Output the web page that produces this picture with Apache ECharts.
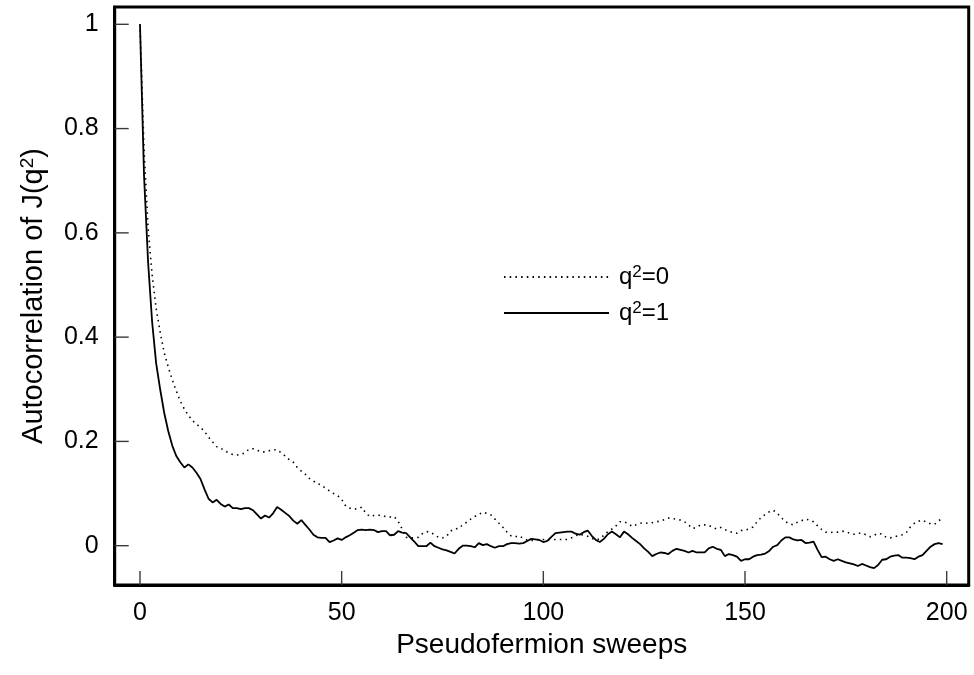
<!DOCTYPE html>
<html>
<head>
<meta charset="utf-8">
<title>Autocorrelation of J(q2)</title>
<script src="https://cdn.jsdelivr.net/npm/echarts@6/dist/echarts.min.js"></script>
<style>
  html, body { margin: 0; padding: 0; background: #fff; }
  #chart { width: 974px; height: 675px; }
</style>
</head>
<body>
<div id="chart"></div>
<script>
const FONT = '"Liberation Sans", Arial, sans-serif'

const xTicks = [0, 50, 100, 150, 200]
const yTicks = [0, 0.2, 0.4, 0.6, 0.8, 1]

// autocorrelation per pseudofermion sweep (index = sweep number)
const q2zero = [
  1.000, 0.760, 0.610, 0.520, 0.455, 0.410, 0.370, 0.343, 0.318, 0.297,
  0.277, 0.262, 0.250, 0.240, 0.233, 0.227, 0.219, 0.208, 0.199, 0.190,
  0.187, 0.182, 0.178, 0.175, 0.174, 0.175, 0.178, 0.185, 0.186, 0.183,
  0.180, 0.180, 0.182, 0.184, 0.184, 0.178, 0.172, 0.165, 0.160, 0.150,
  0.143, 0.137, 0.129, 0.124, 0.119, 0.116, 0.110, 0.105, 0.100, 0.096,
  0.089, 0.076, 0.072, 0.070, 0.071, 0.074, 0.062, 0.056, 0.058, 0.059,
  0.057, 0.056, 0.055, 0.056, 0.047, 0.032, 0.016, 0.015, 0.015, 0.016,
  0.023, 0.027, 0.026, 0.021, 0.016, 0.015, 0.018, 0.028, 0.032, 0.033,
  0.040, 0.045, 0.051, 0.056, 0.060, 0.064, 0.062, 0.059, 0.051, 0.043,
  0.035, 0.026, 0.019, 0.017, 0.019, 0.014, 0.011, 0.010, 0.010, 0.012,
  0.012, 0.012, 0.012, 0.012, 0.012, 0.012, 0.012, 0.015, 0.019, 0.022,
  0.020, 0.018, 0.014, 0.011, 0.013, 0.020, 0.027, 0.032, 0.038, 0.046,
  0.046, 0.043, 0.037, 0.040, 0.043, 0.044, 0.043, 0.044, 0.046, 0.047,
  0.050, 0.053, 0.052, 0.051, 0.049, 0.046, 0.040, 0.033, 0.035, 0.040,
  0.040, 0.039, 0.035, 0.032, 0.035, 0.031, 0.028, 0.025, 0.024, 0.029,
  0.030, 0.032, 0.036, 0.046, 0.054, 0.060, 0.065, 0.068, 0.062, 0.054,
  0.046, 0.042, 0.040, 0.045, 0.048, 0.051, 0.049, 0.046, 0.038, 0.031,
  0.026, 0.025, 0.026, 0.026, 0.028, 0.027, 0.024, 0.022, 0.024, 0.024,
  0.021, 0.017, 0.020, 0.024, 0.022, 0.016, 0.015, 0.017, 0.019, 0.021,
  0.025, 0.036, 0.043, 0.047, 0.049, 0.045, 0.042, 0.041, 0.048, 0.052
]

const q2one = [
  1.000, 0.710, 0.545, 0.430, 0.350, 0.300, 0.255, 0.220, 0.192, 0.172,
  0.160, 0.150, 0.156, 0.150, 0.140, 0.128, 0.108, 0.090, 0.083, 0.088,
  0.080, 0.075, 0.079, 0.072, 0.072, 0.070, 0.072, 0.072, 0.068, 0.060,
  0.052, 0.058, 0.054, 0.062, 0.074, 0.069, 0.063, 0.057, 0.048, 0.042,
  0.049, 0.040, 0.031, 0.021, 0.016, 0.015, 0.015, 0.007, 0.010, 0.014,
  0.011, 0.016, 0.020, 0.025, 0.030, 0.031, 0.030, 0.031, 0.030, 0.026,
  0.028, 0.028, 0.020, 0.021, 0.028, 0.025, 0.024, 0.016, 0.008, -0.001,
  -0.001, -0.001, 0.006, -0.001, -0.004, -0.007, -0.009, -0.012, -0.015, -0.006,
  0.000, 0.000, -0.001, -0.003, 0.005, 0.001, 0.003, -0.001, -0.004, -0.001,
  -0.001, 0.003, 0.005, 0.005, 0.004, 0.005, 0.009, 0.013, 0.012, 0.011,
  0.007, 0.009, 0.017, 0.024, 0.025, 0.026, 0.027, 0.027, 0.023, 0.021,
  0.026, 0.029, 0.019, 0.011, 0.007, 0.013, 0.022, 0.027, 0.022, 0.016,
  0.027, 0.022, 0.015, 0.009, 0.003, -0.005, -0.012, -0.020, -0.016, -0.013,
  -0.014, -0.016, -0.010, -0.006, -0.008, -0.010, -0.013, -0.010, -0.013, -0.013,
  -0.013, -0.005, -0.002, -0.006, -0.008, -0.020, -0.016, -0.018, -0.021, -0.029,
  -0.026, -0.026, -0.021, -0.018, -0.017, -0.015, -0.010, -0.002, 0.001, 0.010,
  0.016, 0.016, 0.012, 0.010, 0.011, 0.005, 0.006, 0.008, -0.008, -0.022,
  -0.021, -0.026, -0.029, -0.026, -0.029, -0.032, -0.034, -0.036, -0.039, -0.035,
  -0.038, -0.041, -0.043, -0.037, -0.027, -0.026, -0.021, -0.019, -0.018, -0.023,
  -0.023, -0.024, -0.026, -0.021, -0.018, -0.010, -0.002, 0.003, 0.005, 0.003
]

const seriesNames = ["q2=0", "q2=1"]

const X_MIN = -6.27
const X_MAX = 205.46
const Y_MIN = -0.0754
const Y_MAX = 1.0332
const TICK_PX = 14

const toPairs = values => values.map((v, i) => [i, v])

const chart = echarts.init(document.getElementById("chart"), null, { renderer: "canvas" })

const frameLine = { show: true, onZero: false, lineStyle: { color: "#000", width: 3 } }

// inward ticks drawn from the axis scale: dx/dy give the direction in pixels
function tickSeries(data, dx, dy) {
  return {
    type: "custom",
    silent: true,
    clip: false,
    z: 10,
    data: data,
    encode: { x: 0, y: 1 },
    renderItem: (params, api) => {
      const p = api.coord([api.value(0), api.value(1)])
      return {
        type: "line",
        shape: { x1: p[0], y1: p[1], x2: p[0] + dx, y2: p[1] + dy },
        style: { stroke: "#3a3a3a", lineWidth: 1.4 }
      }
    }
  }
}

const option = {
  animation: false,
  backgroundColor: "#fff",
  textStyle: { fontFamily: FONT, color: "#000" },
  grid: {
    left: 114.7,
    right: 5.3,
    top: 7,
    bottom: 90,
    show: true,
    borderColor: "#000",
    borderWidth: 3,
    backgroundColor: "transparent"
  },
  legend: {
    data: seriesNames,
    orient: "vertical",
    left: 503,
    top: 264,
    padding: 0,
    itemWidth: 105,
    itemHeight: 14,
    itemGap: 11,
    selectedMode: false,
    itemStyle: { color: "transparent", borderWidth: 0, opacity: 0 },
    formatter: name => `{n|q}{s|2}{n|=${name.split("=")[1]}}`,
    textStyle: {
      fontFamily: FONT,
      color: "#000",
      padding: [0, 0, 0, 5],
      rich: {
        n: { fontFamily: FONT, fontSize: 24, lineHeight: 26, color: "#000" },
        s: { fontFamily: FONT, fontSize: 17, lineHeight: 14, verticalAlign: "top", color: "#000" }
      }
    }
  },
  xAxis: {
    type: "value",
    min: X_MIN,
    max: X_MAX,
    name: "Pseudofermion sweeps",
    nameLocation: "middle",
    nameGap: 46,
    nameTextStyle: { fontFamily: FONT, fontSize: 28, color: "#000" },
    axisLine: frameLine,
    splitLine: { show: false },
    axisTick: { show: false },
    axisLabel: { customValues: xTicks, margin: 16, fontFamily: FONT, fontSize: 25, color: "#000" }
  },
  yAxis: {
    type: "value",
    min: Y_MIN,
    max: Y_MAX,
    name: "{n|Autocorrelation of J(q}{s|2}{n|)}",
    nameLocation: "middle",
    nameGap: 66,
    nameTextStyle: {
      fontFamily: FONT,
      color: "#000",
      rich: {
        n: { fontFamily: FONT, fontSize: 29, lineHeight: 30, color: "#000" },
        s: { fontFamily: FONT, fontSize: 19, lineHeight: 16, verticalAlign: "top", color: "#000" }
      }
    },
    axisLine: frameLine,
    splitLine: { show: false },
    axisTick: { show: false },
    axisLabel: {
      customValues: yTicks,
      margin: 16,
      fontFamily: FONT,
      fontSize: 25,
      color: "#000",
      formatter: v => String(v)
    }
  },
  series: [
    {
      name: seriesNames[0],
      type: "line",
      data: toPairs(q2zero),
      symbol: "none",
      itemStyle: { color: "#000" },
      lineStyle: { color: "#000", width: 1.6, type: [1.5, 4.2], cap: "butt" },
      z: 3
    },
    {
      name: seriesNames[1],
      type: "line",
      data: toPairs(q2one),
      symbol: "none",
      itemStyle: { color: "#000" },
      lineStyle: { color: "#000", width: 1.8, type: "solid" },
      z: 4
    },
    tickSeries(yTicks.map(v => [X_MIN, v]), TICK_PX, 0),
    tickSeries(xTicks.map(v => [v, Y_MIN]), 0, -TICK_PX)
  ]
}

chart.setOption(option)
</script>
</body>
</html>
